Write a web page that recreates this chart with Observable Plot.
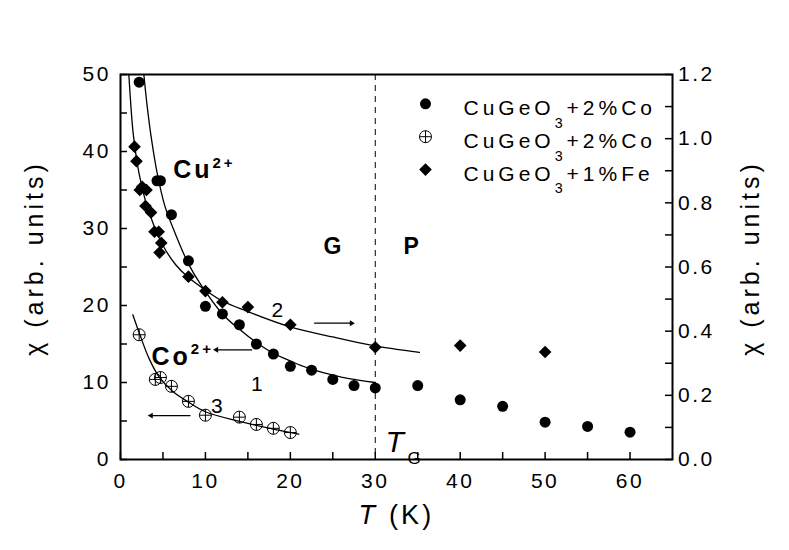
<!DOCTYPE html>
<html><head><meta charset="utf-8">
<script src="https://cdn.jsdelivr.net/npm/d3@7"></script>
<script src="https://cdn.jsdelivr.net/npm/@observablehq/plot@0.6"></script>
<style>
body{margin:0;background:#fff}
svg text{letter-spacing:0.12em}
</style>
</head><body><div id="chart"></div>
<script>
// ---- data ----
const T_filled   = [2.2,4.3,4.7,6,8,10,12,14,16,18,20,22.5,25,27.5,30,35,40,45,50,55,60];
const chi_filled = [49,36.2,36.2,31.8,25.8,19.9,18.9,17.5,15.0,13.7,12.1,11.6,10.4,9.6,9.3,9.6,7.75,6.9,4.85,4.3,3.55];
const T_crossed   = [2.2,4.1,4.7,6,8,10,14,16,18,20];
const chi_crossed = [16.2,10.4,10.65,9.5,7.55,5.75,5.5,4.55,4.05,3.5];
// right-axis units
const T_fe   = [1.65,1.88,2.27,2.55,2.94,3.06,3.6,4.0,4.5,4.6,4.8,8,10,12,15,20,30,40,50];
const chi_fe = [0.975,0.93,0.84,0.85,0.79,0.84,0.77,0.71,0.71,0.645,0.675,0.57,0.525,0.49,0.475,0.42,0.35,0.355,0.335];
// fitted curves
const fit1_T   = [2.75,3.14,3.65,4.3,5.2,6.5,8,9.4,12,14,16,18,20,22,26,30];
const fit1_chi = [50,45.9,41.6,37.3,33.0,29.2,25.4,22.8,18.9,16.9,15.2,13.8,12.8,11.9,10.7,10.0];
const fit2_T   = [0.98,1.25,1.5,2.16,2.94,3.9,5,6.5,7.84,10,12,14.7,20,25,29.8,35.2];
const fit2_chi = [1.2,1.092,1.015,0.895,0.806,0.732,0.667,0.607,0.571,0.528,0.494,0.464,0.413,0.382,0.355,0.334];
const fit3_T   = [1.45,2.35,3.33,4.5,6.1,8,10,14,18,21];
const fit3_chi = [18.8,16.0,13.2,10.8,8.9,7.45,6.2,4.95,3.95,3.3];
const TG = [30];
// axes
const xDomain = [0,65];
const leftDomain = [0,50];
const rightDomain = [0,1.2];
const xTicks = [0,5,10,15,20,25,30,35,40,45,50,55,60];
const leftTicks = [0,5,10,15,20,25,30,35,40,45,50];
const rightTicks = [0,0.1,0.2,0.3,0.4,0.5,0.6,0.7,0.8,0.9,1.0,1.1,1.2];
const legendLabels = ["CuGeO_{3}+2%Co","CuGeO_{3}+2%Co","CuGeO_{3}+1%Fe"];
const legendKinds = ["filled","crossed","diamond"];

const W = 789, H = 550, mT = 74, mR = 117, mB = 91, mL = 120, tick = 7;
const fw = W - mL - mR, fh = H - mT - mB;

const k = leftDomain[1] / rightDomain[1];
const zip = (a,b) => a.map((t,i)=>({T:t, chi:b[i]}));
const filled = zip(T_filled, chi_filled);
const crossed = zip(T_crossed, chi_crossed);
const fe = zip(T_fe, chi_fe);
const fit1 = zip(fit1_T, fit1_chi);
const fit2 = zip(fit2_T, fit2_chi);
const fit3 = zip(fit3_T, fit3_chi);
const R = d => d.chi * k;

const notes = [
  {s:"Cu^{2+}", dx:52.7, dy:86, fs:25, w:"bold", a:"start"},
  {s:"Co^{2+}", dx:31, dy:272.3, fs:25, w:"bold", a:"start"},
  {s:"1", dx:137.5, dy:302, fs:21, w:"normal", a:"middle"},
  {s:"2", dx:158, dy:228, fs:21, w:"normal", a:"middle"},
  {s:"3", dx:97.5, dy:324, fs:21, w:"normal", a:"middle"},
  {s:"G", dx:213.3, dy:163.6, fs:23, w:"bold", a:"middle"},
  {s:"P", dx:292, dy:163.6, fs:23, w:"bold", a:"middle"},
  {s:"*{T}_{G}", dx:265, dy:355.7, fs:30, w:"normal", a:"start"}
];
const arrows = [
  {x1:22.8, x2:27.2, y:17.7},
  {x1:15.5, x2:11.3, y:14.25},
  {x1:8.24, x2:3.6, y:5.7}
];

function legendMarks() {
  const out = [];
  legendKinds.forEach((kind, i) => {
    const dyS = 29.3 + i*32.9, dyT = 26 + i*32.7;
    const base = {x: null, y: null, frameAnchor: "top-left", dx: 305, dy: dyS};
    if (kind === "filled") out.push(Plot.dot([0], {...base, r: 5.5, fill: "black"}));
    if (kind === "crossed") {
      out.push(Plot.dot([0], {...base, r: 6, stroke: "black", fill: "none", strokeWidth: 1}));
      out.push(Plot.dot([0], {...base, symbol: "plus", r: 3.9, stroke: "black", strokeWidth: 1}));
    }
    if (kind === "diamond") out.push(Plot.dot([0], {...base, symbol: "diamond2", r: 5.7, fill: "black", stroke: "none"}));
    out.push(Plot.text([legendLabels[i]], {text: d=>d, frameAnchor: "top-left", dx: 343, dy: dyT, textAnchor: "start", fontSize: 21}));
  });
  return out;
}

const chart = Plot.plot({
  width: W, height: H,
  marginTop: mT, marginRight: mR, marginBottom: mB, marginLeft: mL,
  style: {fontFamily: "'Liberation Sans', Arial, sans-serif", fontSize: "21px", color: "black", background: "white"},
  x: {domain: xDomain},
  y: {domain: leftDomain},
  marks: [
    Plot.ruleX(TG, {stroke: "black", strokeWidth: 1, strokeDasharray: "6,5"}),
    Plot.line(fit1, {x: "T", y: "chi", curve: "catmull-rom", stroke: "black", strokeWidth: 1.3}),
    Plot.line(fit2, {x: "T", y: R, curve: "catmull-rom", stroke: "black", strokeWidth: 1.3}),
    Plot.line(fit3, {x: "T", y: "chi", curve: "catmull-rom", stroke: "black", strokeWidth: 1.3}),
    Plot.dot(filled, {x: "T", y: "chi", r: 5.5, fill: "black"}),
    Plot.dot(fe, {x: "T", y: R, symbol: "diamond2", r: 5.7, fill: "black", stroke: "none"}),
    Plot.dot(crossed, {x: "T", y: "chi", r: 6, stroke: "black", fill: "none", strokeWidth: 1}),
    Plot.dot(crossed, {x: "T", y: "chi", symbol: "plus", r: 3.9, stroke: "black", strokeWidth: 1}),
    // arrows: shaft + filled head
    Plot.link(arrows, {x1: "x1", x2: "x2", y1: "y", y2: "y", stroke: "black", strokeWidth: 1.2}),
    Plot.dot(arrows, {x: "x2", y: "y", symbol: "triangle2", rotate: d => d.x2 > d.x1 ? 90 : -90, r: 2.8, fill: "black", stroke: "none"}),
    ...notes.map(n => Plot.text([n.s], {text: d=>d, frameAnchor: "top-left", dx: n.dx, dy: n.dy, fontSize: n.fs, fontWeight: n.w, textAnchor: n.a})),
    ...legendMarks(),
    // inward ticks
    Plot.tickX(xTicks, {x: d => d, insetTop: fh - tick, stroke: "black", strokeWidth: 1.5}),
    Plot.tickY(leftTicks, {y: d => d, insetRight: fw - tick, stroke: "black", strokeWidth: 1.5}),
    Plot.tickY(rightTicks, {y: d => d * k, insetLeft: fw - tick, stroke: "black", strokeWidth: 1.5}),
    // tick labels
    Plot.axisX({ticks: xTicks, anchor: "bottom", tickSize: 0, tickPadding: 13.7, fontSize: 21, label: null,
      tickFormat: d => d % 10 === 0 ? String(d) : ""}),
    Plot.axisY({ticks: leftTicks, anchor: "left", tickSize: 0, tickPadding: 9.5, fontSize: 21, label: null,
      tickFormat: d => d % 10 === 0 ? String(d) : ""}),
    Plot.axisY({ticks: rightTicks.map(v => v*k), anchor: "right", tickSize: 0, tickPadding: 5.5, fontSize: 21, label: null,
      tickFormat: d => { const r = Math.round(d / k * 10); return r % 2 === 0 ? (r/10).toFixed(1) : ""; }}),
    Plot.frame({stroke: "black", strokeWidth: 2}),
    Plot.text(["χ (arb. units)"], {text: d=>d, frameAnchor: "left", textAnchor: "middle", rotate: -90, dx: -86, dy: -9, fontSize: 25}),
    Plot.text(["χ (arb. units)"], {text: d=>d, frameAnchor: "right", textAnchor: "middle", rotate: -90, dx: 78, dy: -9, fontSize: 25}),
    Plot.text(["*{T} (K)"], {text: d=>d, frameAnchor: "bottom", textAnchor: "middle", dy: 64, fontSize: 27})
  ]
});
document.getElementById("chart").appendChild(chart);

// letter spacing for legend and axis titles
chart.querySelectorAll("text").forEach(t => {
  const s = t.textContent;
  if (s.startsWith("CuGeO")) t.style.letterSpacing = "0.19em";
  if (s.startsWith("χ")) t.style.letterSpacing = "0.16em";
});

// rich text: *{x} italic, _{x} subscript, ^{x} superscript
const NS = "http://www.w3.org/2000/svg";
chart.querySelectorAll("text").forEach(t => {
  const s = t.textContent;
  if (!/[_^*]\{/.test(s)) return;
  const fs = parseFloat(getComputedStyle(t).fontSize);
  while (t.firstChild) t.removeChild(t.firstChild);
  const re = /([_^*])\{([^}]*)\}|([^_^*{}]+)/g;
  let m, shift = 0;
  while ((m = re.exec(s))) {
    const ts = document.createElementNS(NS, "tspan");
    let target = 0;
    if (m[1] === "_") { target = Math.min(0.62*fs, 12.5); ts.style.fontSize = Math.min(0.68*fs, 17) + "px"; ts.style.fontStyle = "normal"; }
    else if (m[1] === "^") { target = -0.42*fs; ts.style.fontSize = (0.6*fs) + "px"; }
    else if (m[1] === "*") { ts.style.fontStyle = "italic"; }
    if (target !== shift) ts.setAttribute("dy", target - shift);
    shift = target;
    ts.textContent = m[1] ? m[2] : m[3];
    t.appendChild(ts);
  }
});
</script>
</body></html>
